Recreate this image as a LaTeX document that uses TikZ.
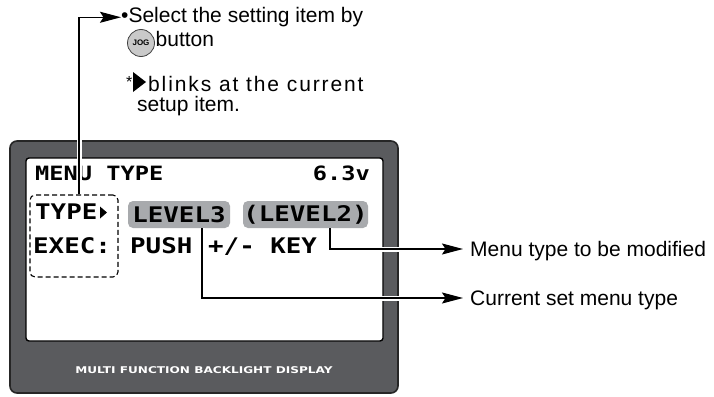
\documentclass[tikz,border=0pt]{standalone}
\usepackage{fontspec}
\setmainfont{Liberation Sans}
\newfontfamily\lcdfont[FakeStretch=1.2]{DejaVu Sans Mono}
\newfontfamily\bezelfont[FakeStretch=1.3]{DejaVu Sans}
\usepackage{xcolor}
\usetikzlibrary{positioning,arrows.meta,shapes.geometric}
\definecolor{bezelgray}{HTML}{5A5B5E}
\definecolor{hilitegray}{HTML}{A8AAAD}
\definecolor{joggray}{HTML}{C9C9C9}

\begin{document}
\begin{tikzpicture}[x=1pt, y=-1pt,
  bezel/.style={draw=black!85, line width=1.6pt, fill=bezelgray, rounded corners=7pt,
                minimum width=388pt, minimum height=252pt},
  screen/.style={draw=black, line width=1.4pt, fill=white, rounded corners=3pt,
                 minimum width=357pt, minimum height=183pt},
  lcd/.style={inner sep=0pt, anchor=base west, font=\lcdfont\bfseries\fontsize{21.5}{22}\selectfont},
  hilite/.style={fill=hilitegray, rounded corners=5pt, minimum height=27pt, inner sep=0pt,
                 font=\lcdfont\bfseries\fontsize{21.5}{23}\selectfont},
  note/.style={inner sep=0pt, anchor=base west, font=\fontsize{21}{24}\selectfont},
  label/.style={inner sep=0pt, anchor=west, text depth=0pt, font=\fontsize{21}{24}\selectfont},
  arr/.style={-{Stealth[length=21pt,width=11pt,inset=3.5pt]}, line width=1.5pt,
              preaction={draw=white, line width=5pt, -}}
]
\useasboundingbox (0,0) rectangle (714,396);
% display
\node[bezel] (bezel) at (204,267) {};
\node[screen] (screen) at (204.5,249.5) {};
\node[inner sep=0pt, text=white, font=\bezelfont\bfseries\fontsize{9.3}{10}\selectfont]
  (brand) at (204,370) {MULTI FUNCTION BACKLIGHT DISPLAY};
% lcd contents
\node[lcd, font=\lcdfont\bfseries\fontsize{19.7}{21}\selectfont] (title) at (35,180) {MENU TYPE};
\node[lcd, anchor=base east, font=\lcdfont\bfseries\fontsize{19.7}{21}\selectfont] (volt) at (370,180) {6.3v};
\node[lcd] (type) at (35,219) {TYPE};
\coordinate (cursor) at (100,206.5);
\fill (cursor) -- ++(7,6) -- ++(-7,6) -- cycle;
\node[hilite, minimum width=102pt] (lev3) at (179,214.5) {LEVEL3};
\node[hilite, minimum width=125pt] (lev2) at (305.5,214.5) {(LEVEL2)};
\node[lcd] (exec) at (33,253) {EXEC:};
\node[lcd] (push) at (130,253) {PUSH};
\node[lcd] (key) at (208,253) {+/- KEY};
\node[draw, dash pattern=on 5pt off 3pt, line width=1.1pt, rounded corners=5pt, minimum width=88pt,
      minimum height=82pt] (typesel) at (74,236) {};
% notes
\node[note] (select) at (121,22.7) {•Select the setting item by};
\node[draw=black!75, line width=0.8pt, circle, fill=joggray, minimum size=27pt, inner sep=0pt,
      font=\bfseries\fontsize{8}{8}\selectfont] (jog) at (141,43) {JOG};
\node[note] (button) at (155.5,47) {button};
\node[note, font=\fontsize{16}{16}\selectfont] (star) at (126,87) {*};
\coordinate (blink) at (133,72);
\fill (blink) -- ++(13,10) -- ++(-13,10) -- cycle;
\node[note, font=\addfontfeature{LetterSpace=9}\fontsize{21}{24}\selectfont] (blinks) at (148,91.7) {blinks at the current};
\node[note] (setup) at (137,111) {setup item.};
\node[label] (modlabel) at (470,249) {Menu type to be modified};
\node[label] (curlabel) at (470,298) {Current set menu type};
% connectors
\draw[arr] ([xshift=5pt]typesel.north) |- (select.west);
\draw[arr] ([xshift=24.5pt]lev2.south) |- ([xshift=-7pt]modlabel.west);
\draw[arr] ([xshift=23pt]lev3.south) |- ([xshift=-7pt]curlabel.west);
\end{tikzpicture}
\end{document}
